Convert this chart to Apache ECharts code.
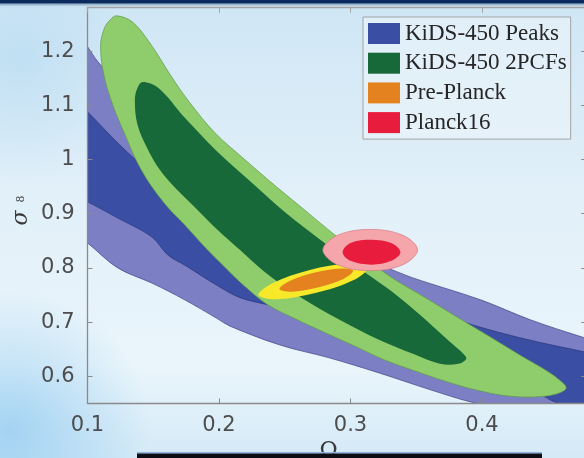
<!DOCTYPE html>
<html><head><meta charset="utf-8">
<script src="https://cdn.jsdelivr.net/npm/echarts@6/dist/echarts.min.js"></script>
<style>html,body{margin:0;padding:0;background:#dcedf8}#c{width:584px;height:458px}</style>
</head><body><div id="c"></div>
<script>
const xTicks = [0.1, 0.2, 0.3, 0.4];
const yTicks = [0.6, 0.7, 0.8, 0.9, 1, 1.1, 1.2];
const legendNames = ['KiDS-450 Peaks', 'KiDS-450 2PCFs', 'Pre-Planck', 'Planck16'];

// contour vertices [Omega_m, sigma_8]
const peaksOuter = [[0.094,1.226],[0.100,1.208],[0.108,1.180],[0.148,1.073],[0.186,0.981],[0.224,0.907],[0.262,0.852],[0.300,0.818],[0.322,0.805],[0.348,0.781],[0.399,0.741],[0.437,0.704],[0.478,0.671],[0.490,0.663],[0.490,0.510],[0.429,0.534],[0.391,0.553],[0.361,0.575],[0.322,0.606],[0.284,0.634],[0.246,0.658],[0.208,0.693],[0.199,0.706],[0.174,0.741],[0.149,0.772],[0.123,0.800],[0.100,0.846],[0.094,0.855]];
const peaksInner = [[0.094,1.102],[0.100,1.088],[0.131,1.012],[0.186,0.898],[0.262,0.800],[0.338,0.741],[0.386,0.700],[0.429,0.671],[0.478,0.645],[0.490,0.639],[0.490,0.534],[0.459,0.549],[0.437,0.575],[0.406,0.593],[0.372,0.608],[0.349,0.626],[0.326,0.647],[0.303,0.671],[0.281,0.695],[0.258,0.719],[0.237,0.732],[0.216,0.745],[0.199,0.767],[0.174,0.805],[0.161,0.824],[0.149,0.857],[0.123,0.892],[0.100,0.922],[0.094,0.929]];
const pcfOuter = [[0.122,1.265],[0.134,1.254],[0.148,1.213],[0.163,1.156],[0.178,1.104],[0.197,1.049],[0.220,0.999],[0.243,0.951],[0.265,0.907],[0.288,0.861],[0.311,0.818],[0.334,0.778],[0.357,0.745],[0.380,0.711],[0.406,0.673],[0.429,0.639],[0.448,0.612],[0.459,0.593],[0.464,0.578],[0.456,0.567],[0.440,0.562],[0.418,0.564],[0.395,0.575],[0.372,0.591],[0.349,0.610],[0.326,0.630],[0.303,0.656],[0.281,0.680],[0.258,0.706],[0.237,0.732],[0.220,0.765],[0.205,0.800],[0.189,0.839],[0.174,0.879],[0.161,0.912],[0.148,0.953],[0.138,0.994],[0.129,1.043],[0.119,1.102],[0.112,1.161],[0.110,1.213],[0.113,1.243],[0.117,1.257]];
const pcfInner = [[0.142,1.143],[0.154,1.132],[0.174,1.077],[0.199,1.014],[0.225,0.957],[0.250,0.903],[0.277,0.852],[0.303,0.805],[0.330,0.759],[0.353,0.713],[0.374,0.667],[0.386,0.641],[0.388,0.632],[0.382,0.623],[0.368,0.623],[0.348,0.641],[0.322,0.667],[0.292,0.704],[0.262,0.746],[0.235,0.792],[0.216,0.833],[0.199,0.870],[0.182,0.911],[0.167,0.947],[0.155,0.981],[0.146,1.018],[0.138,1.064],[0.136,1.110],[0.138,1.132]];
const prePlanckOuter = [[0.313,0.800],[0.302,0.777],[0.274,0.754],[0.244,0.742],[0.230,0.750],[0.241,0.772],[0.269,0.796],[0.299,0.808]];
const prePlanckInner = [[0.302,0.795],[0.295,0.780],[0.275,0.764],[0.255,0.756],[0.246,0.761],[0.253,0.775],[0.272,0.791],[0.293,0.799]];
const planckOuter = [[0.351,0.833],[0.340,0.860],[0.315,0.871],[0.290,0.860],[0.279,0.833],[0.290,0.806],[0.315,0.795],[0.340,0.806]];
const planckInner = [[0.338,0.829],[0.331,0.846],[0.316,0.852],[0.300,0.846],[0.294,0.829],[0.300,0.813],[0.316,0.806],[0.331,0.813]];

function contour(name, pts, fill, stroke, lw, z) {
  return {
    type: 'custom', name: name, data: pts, clip: true, z: z, silent: true,
    renderItem: function (params, api) {
      if (params.dataIndex !== 0) return null;
      const p = pts.map(function (d) { return api.coord(d); });
      return { type: 'polygon', shape: { points: p, smooth: 0.35 },
        style: { fill: fill, stroke: stroke || null, lineWidth: lw || 0 } };
    }
  };
}

const chart = echarts.init(document.getElementById('c'), null, { renderer: 'canvas' });
const axisFont = { color: '#4d4d4d', fontSize: 21, fontFamily: 'DejaVu Sans' };
chart.setOption({
  animation: false,
  grid: { left: 87.5, top: 7.7, width: 499.7, height: 395.7, outerBoundsMode: 'none' },
  graphic: [
    { type: 'rect', z: -10, shape: { x: 0, y: 0, width: 584, height: 458 },
      style: { fill: new echarts.graphic.LinearGradient(0, 0, 0, 1, [
        { offset: 0, color: '#cfe6f5' }, { offset: 0.45, color: '#e2f0f9' },
        { offset: 0.8, color: '#eaf5fb' }, { offset: 1, color: '#d4eaf7' }]) } },
    { type: 'circle', z: -9, shape: { cx: 10, cy: 430, r: 140 },
      style: { fill: new echarts.graphic.RadialGradient(0.5, 0.5, 0.5, [
        { offset: 0, color: 'rgba(140,200,240,0.7)' }, { offset: 1, color: 'rgba(140,200,240,0)' }]) } },
    { type: 'circle', z: -9, shape: { cx: 20, cy: 60, r: 120 },
      style: { fill: new echarts.graphic.RadialGradient(0.5, 0.5, 0.5, [
        { offset: 0, color: 'rgba(185,220,242,0.7)' }, { offset: 1, color: 'rgba(185,220,242,0)' }]) } },
    { type: 'rect', z: 30, shape: { x: 0, y: 0, width: 584, height: 3.5 }, style: { fill: '#0b2b5e' } },
    { type: 'rect', z: 30, shape: { x: 0, y: 3.5, width: 584, height: 4 },
      style: { fill: new echarts.graphic.LinearGradient(0, 0, 0, 1, [
        { offset: 0, color: 'rgba(40,70,110,0.55)' }, { offset: 1, color: 'rgba(200,225,240,0)' }]) } },
    { type: 'text', z: 30, x: 21, y: 218, rotation: Math.PI / 2,
      style: { text: 'σ', fontSize: 22, fontStyle: 'italic', fontFamily: 'DejaVu Serif', fill: '#3a3a3a',
        textAlign: 'center', textVerticalAlign: 'middle' } },
    { type: 'text', z: 30, x: 21, y: 199, rotation: Math.PI / 2,
      style: { text: '8', fontSize: 11, fontFamily: 'DejaVu Serif', fill: '#3a3a3a',
        textAlign: 'center', textVerticalAlign: 'middle' } },
    { type: 'text', z: 30, x: 328.5, y: 440,
      style: { text: 'Ω', fontSize: 22, fontFamily: 'DejaVu Serif', fill: '#3a3a3a',
        textAlign: 'center', textVerticalAlign: 'top' } },
    { type: 'rect', z: 31, shape: { x: 137, y: 452, width: 405, height: 1.5 }, style: { fill: '#8fb2e2' } },
    { type: 'rect', z: 31, shape: { x: 137, y: 453.5, width: 405, height: 5 }, style: { fill: '#0d0d15' } }
  ],
  legend: {
    left: 363, top: 17, orient: 'vertical', icon: 'rect',
    itemWidth: 32, itemHeight: 21, itemGap: 6.7, padding: [5, 4, 5, 5],
    backgroundColor: 'rgba(238,246,252,0.55)', borderColor: '#a3a3a3', borderWidth: 1,
    selectedMode: false,
    textStyle: { fontFamily: 'Liberation Serif', fontSize: 23, color: '#262626', lineHeight: 21 },
    data: [
      { name: legendNames[0], itemStyle: { color: '#3a4ea3' } },
      { name: legendNames[1], itemStyle: { color: '#17693a' } },
      { name: legendNames[2], itemStyle: { color: '#e3821f' } },
      { name: legendNames[3], itemStyle: { color: '#e81c3c' } }
    ]
  },
  xAxis: [
    { type: 'value', min: 0.1, max: 0.48, z: 20, splitLine: { show: false },
      axisLine: { lineStyle: { color: '#8a8a8a', width: 1.3 } },
      axisTick: { inside: true, length: 5, customValues: xTicks, lineStyle: { color: '#8a8a8a' } },
      axisLabel: { margin: 12, customValues: xTicks, ...axisFont } },
    { type: 'value', position: 'top', min: 0.1, max: 0.48, z: 20, splitLine: { show: false },
      axisLine: { lineStyle: { color: '#a4a4a4', width: 1.3 } },
      axisTick: { inside: true, length: 5, customValues: xTicks, lineStyle: { color: '#a4a4a4' } },
      axisLabel: { show: false } }
  ],
  yAxis: [
    { type: 'value', min: 0.55, max: 1.28, z: 20, splitLine: { show: false },
      axisLine: { lineStyle: { color: '#8a8a8a', width: 1.3 } },
      axisTick: { inside: true, length: 5, customValues: yTicks, lineStyle: { color: '#8a8a8a' } },
      axisLabel: { margin: 13, customValues: yTicks, ...axisFont } },
    { type: 'value', position: 'right', min: 0.55, max: 1.28, z: 20, splitLine: { show: false },
      axisLine: { lineStyle: { color: '#8a8a8a', width: 1.3 } },
      axisTick: { inside: true, length: 6, customValues: yTicks, lineStyle: { color: '#8a8a8a' } },
      axisLabel: { show: false } }
  ],
  series: [
    contour(legendNames[0], peaksOuter, '#7c7fc4', '#4b4d8c', 0.8, 2),
    contour(legendNames[0], peaksInner, '#3a4ea3', '#2b3878', 0.7, 3),
    contour(legendNames[1], pcfOuter, '#8fcc6b', '#5f9a48', 0.7, 4),
    contour(legendNames[1], pcfInner, '#17693a', null, 0, 5),
    contour(legendNames[2], prePlanckOuter, '#f7e82a', null, 0, 6),
    contour(legendNames[2], prePlanckInner, '#e3821f', null, 0, 7),
    contour(legendNames[3], planckOuter, '#f5a6aa', '#d9828a', 0.8, 8),
    contour(legendNames[3], planckInner, '#e81c3c', null, 0, 9)
  ]
});
</script></body></html>
